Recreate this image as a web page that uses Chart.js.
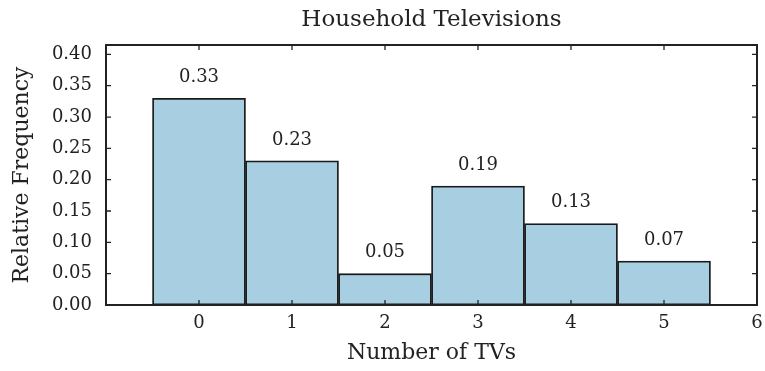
<!DOCTYPE html>
<html>
<head>
<meta charset="utf-8">
<script src="https://cdn.jsdelivr.net/npm/chart.js@4.4.1/dist/chart.umd.min.js"></script>
<style>
  html, body { margin: 0; padding: 0; background: #ffffff; }
  #wrap { width: 765px; height: 371px; position: relative; }
</style>
</head>
<body>
<div id="wrap"><canvas id="chart" width="765" height="371"></canvas></div>
<script>
// Number of TVs per household and their relative frequencies
const tvCounts = [0, 1, 2, 3, 4, 5];
const relFreq = [0.33, 0.23, 0.05, 0.19, 0.13, 0.07];
const yTickValues = [0.00, 0.05, 0.10, 0.15, 0.20, 0.25, 0.30, 0.35, 0.40];
const xTickValues = [0, 1, 2, 3, 4, 5, 6];
const chartTitle = 'Household Televisions';

const FONT = "'DejaVu Serif', 'Liberation Serif', serif";
const INK = '#222222';

// Inward tick marks on all four sides, the frame, and the title centred over the plot
const framePlugin = {
  id: 'frame',
  afterDatasetsDraw(chart) {
    const { ctx, chartArea: a, scales } = chart;
    ctx.save();
    ctx.strokeStyle = INK;
    ctx.lineWidth = 1.3;
    const len = 5;
    scales.x.ticks.forEach(t => {
      const px = scales.x.getPixelForValue(t.value);
      ctx.beginPath();
      ctx.moveTo(px, a.bottom); ctx.lineTo(px, a.bottom - len);
      ctx.moveTo(px, a.top); ctx.lineTo(px, a.top + len);
      ctx.stroke();
    });
    scales.y.ticks.forEach(t => {
      const py = scales.y.getPixelForValue(t.value);
      ctx.beginPath();
      ctx.moveTo(a.left, py); ctx.lineTo(a.left + len, py);
      ctx.moveTo(a.right, py); ctx.lineTo(a.right - len, py);
      ctx.stroke();
    });
    ctx.lineWidth = 2;
    ctx.strokeRect(a.left, a.top, a.right - a.left, a.bottom - a.top);

    ctx.font = '23px ' + FONT;
    ctx.fillStyle = INK;
    ctx.textAlign = 'center';
    ctx.textBaseline = 'middle';
    ctx.fillText(chartTitle, (a.left + a.right) / 2, 20);
    ctx.restore();
  }
};

// Value written above each bar
const valueLabels = {
  id: 'valueLabels',
  afterDatasetsDraw(chart) {
    const { ctx } = chart;
    const meta = chart.getDatasetMeta(0);
    ctx.save();
    ctx.font = '18px ' + FONT;
    ctx.fillStyle = INK;
    ctx.textAlign = 'center';
    ctx.textBaseline = 'middle';
    meta.data.forEach((bar, i) => {
      ctx.fillText(relFreq[i].toFixed(2), bar.x, bar.y - 21);
    });
    ctx.restore();
  }
};

new Chart(document.getElementById('chart'), {
  type: 'bar',
  data: {
    datasets: [{
      data: tvCounts.map((c, i) => ({ x: c, y: relFreq[i] })),
      backgroundColor: '#a8cfe1',
      borderColor: '#1a1a1a',
      borderWidth: 1.8,
      borderSkipped: false,
      barPercentage: 1,
      categoryPercentage: 1
    }]
  },
  options: {
    responsive: false,
    animation: false,
    layout: { padding: { left: 0, right: 8, top: 45, bottom: 0 } },
    plugins: {
      legend: { display: false },
      tooltip: { enabled: false },
      title: { display: false }
    },
    scales: {
      x: {
        type: 'linear',
        min: -1,
        max: 6,
        offset: false,
        afterBuildTicks(scale) {
          scale.ticks = xTickValues.map(v => ({ value: v }));
        },
        afterFit(scale) {
          scale.height = 66;
          scale.paddingLeft = 0;
          scale.paddingRight = 0;
        },
        ticks: {
          color: INK,
          font: { family: FONT, size: 18 },
          padding: 8,
          callback: v => String(v)
        },
        grid: { display: false, drawTicks: false, offset: false },
        border: { display: false },
        title: {
          display: true,
          text: 'Number of TVs',
          color: INK,
          font: { family: FONT, size: 22 },
          padding: { top: 4, bottom: 5 }
        }
      },
      y: {
        min: 0,
        max: 0.415,
        afterBuildTicks(scale) {
          scale.ticks = yTickValues.map(v => ({ value: v }));
        },
        afterFit(scale) {
          scale.width = 106;
          scale.paddingTop = 0;
          scale.paddingBottom = 0;
        },
        ticks: {
          color: INK,
          font: { family: FONT, size: 18 },
          padding: 14,
          callback: v => Number(v).toFixed(2)
        },
        grid: { display: false, drawTicks: false },
        border: { display: false },
        title: {
          display: true,
          text: 'Relative Frequency',
          color: INK,
          font: { family: FONT, size: 22 },
          padding: { top: 9, bottom: 2 }
        }
      }
    }
  },
  plugins: [framePlugin, valueLabels]
});
</script>
</body>
</html>
